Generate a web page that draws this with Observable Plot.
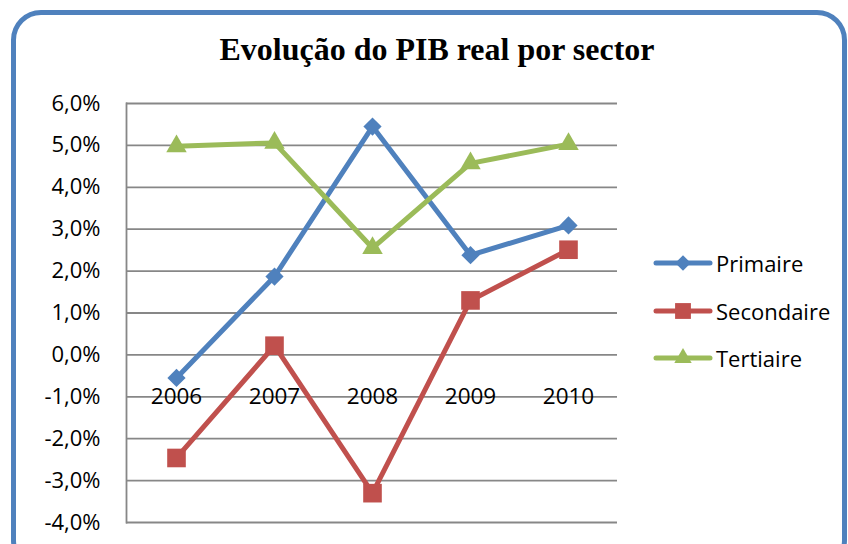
<!DOCTYPE html>
<html>
<head>
<meta charset="utf-8">
<script src="https://cdn.jsdelivr.net/npm/d3@7"></script>
<script src="https://cdn.jsdelivr.net/npm/@observablehq/plot@0.6"></script>
<style>
  html, body { margin: 0; padding: 0; background: #fff; }
  #wrap { position: relative; width: 848px; height: 544px; overflow: hidden; background: #fff; }
  #border { position: absolute; left: 11px; top: 10px; width: 836px; height: 560px;
            border: 5px solid #4F81BD; border-radius: 30px; box-sizing: border-box; }
  #title { position: absolute; left: 0; top: 0; }
  #chart { position: absolute; left: 0; top: 80px; }
  #legend { position: absolute; left: 653px; top: 246px; font-family: "Open Sans", sans-serif; font-size: 22px; color: #000; }
  .item { display: flex; align-items: center; height: 34px; margin-bottom: 13.5px; }
  .item svg { margin-right: 3px; }
</style>
</head>
<body>
<div id="wrap">
  <div id="border"></div>
  <svg id="title" width="848" height="80">
    <text x="437" y="60" text-anchor="middle" font-family="'Liberation Serif', 'Times New Roman', serif" font-weight="bold" font-size="31" textLength="435" lengthAdjust="spacingAndGlyphs">Evolução do PIB real por sector</text>
  </svg>
  <div id="chart"></div>
  <div id="legend"></div>
</div>
<script>
const years = ["2006", "2007", "2008", "2009", "2010"];
const primaire   = [-0.55, 1.87, 5.45, 2.38, 3.09];
const secondaire = [-2.46, 0.22, -3.30, 1.30, 2.51];
const tertiaire  = [4.98, 5.06, 2.55, 4.57, 5.03];
const yTicks = [-4, -3, -2, -1, 0, 1, 2, 3, 4, 5, 6];

const seriesNames = ["Primaire", "Secondaire", "Tertiaire"];
const seriesValues = [primaire, secondaire, tertiaire];
const colors = ["#4F81BD", "#C0504D", "#9BBB59"];
const symbols = ["diamond2", "square", "triangle"];
const radii = [8.2, 10.5, 7.6];

const rows = seriesNames.flatMap((s, i) => years.map((y, j) => ({series: s, year: y, value: seriesValues[i][j]})));
const fmt = d => d.toFixed(1).replace(".", ",") + "%";

const marks = [
  Plot.ruleY(yTicks, {stroke: "#878787", strokeWidth: 1.8}),
  Plot.frame({anchor: "left", stroke: "#878787", strokeWidth: 1.8}),
  Plot.axisY(yTicks, {tickSize: 0, tickPadding: 26, tickFormat: fmt, fontSize: 22, fill: "#000", label: null}),
  Plot.text(years, {x: d => d, y: () => 0, dy: 42, text: d => d, fontSize: 22.5, fill: "#000", textAnchor: "middle", lineAnchor: "middle"})
];
seriesNames.forEach((s, i) => {
  const data = rows.filter(r => r.series === s);
  marks.push(Plot.line(data, {x: "year", y: "value", stroke: colors[i], strokeWidth: 5, strokeLinejoin: "round", strokeLinecap: "round"}));
  marks.push(Plot.dot(data, {x: "year", y: "value", fill: colors[i], symbol: symbols[i], r: radii[i], stroke: "none"}));
});

const chart = Plot.plot({
  width: 848,
  height: 464,
  marginLeft: 126,
  marginRight: 231,
  marginTop: 23,
  marginBottom: 22,
  style: {fontFamily: "'Open Sans', sans-serif", background: "transparent", overflow: "visible"},
  x: {type: "point", domain: years, padding: 0.5, axis: null},
  y: {domain: [-4, 6], axis: null},
  marks
});
document.getElementById("chart").appendChild(chart);

// legend
const legend = document.getElementById("legend");
const symMap = {diamond2: d3.symbolDiamond2, square: d3.symbolSquare, triangle: d3.symbolTriangle};
seriesNames.forEach((s, i) => {
  const item = document.createElement("div");
  item.className = "item";
  const svg = d3.create("svg").attr("width", 60).attr("height", 34);
  svg.append("line").attr("x1", 3).attr("x2", 57).attr("y1", 17).attr("y2", 17)
     .attr("stroke", colors[i]).attr("stroke-width", 5).attr("stroke-linecap", "round");
  const size = Math.PI * Math.pow(radii[i] * 0.85, 2);
  svg.append("path").attr("transform", "translate(30,17)").attr("d", d3.symbol(symMap[symbols[i]], size)()).attr("fill", colors[i]);
  item.appendChild(svg.node());
  const t = document.createElement("span");
  t.textContent = s;
  item.appendChild(t);
  legend.appendChild(item);
});
</script>
</body>
</html>
